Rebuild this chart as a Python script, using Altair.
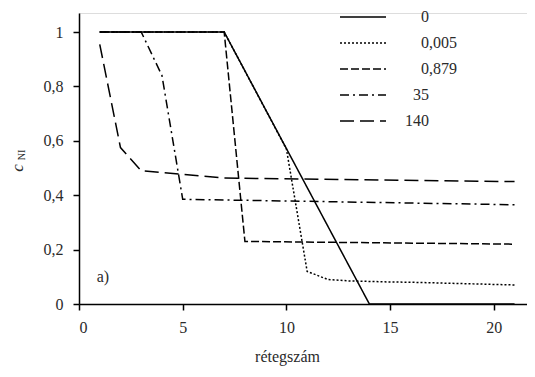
import altair as alt
import pandas as pd

series_names = ["0", "0,005", "0,879", "35", "140"]
legend_int = ["0", "0", "0", "35", "140"]
legend_frac = ["", ",005", ",879", "", ""]

s0_x = [1, 7, 14, 21]
s0_y = [1.0, 1.0, 0.0, 0.0]

s1_x = [1, 7, 10, 11, 12, 13, 14, 15, 16, 17, 18, 19, 20, 21]
s1_y = [1.0, 1.0, 0.57, 0.12, 0.09, 0.085, 0.083, 0.081, 0.08, 0.078, 0.076, 0.074, 0.072, 0.07]

s2_x = [1, 7, 8, 21]
s2_y = [1.0, 1.0, 0.23, 0.22]

s3_x = [1, 3, 4, 5, 21]
s3_y = [1.0, 1.0, 0.84, 0.385, 0.365]

s4_x = [1, 2, 3, 7, 21]
s4_y = [0.955, 0.575, 0.49, 0.463, 0.45]

xs = [s0_x, s1_x, s2_x, s3_x, s4_x]
ys = [s0_y, s1_y, s2_y, s3_y, s4_y]

rows = []
for name, sx, sy in zip(series_names, xs, ys):
    for i, (a, b) in enumerate(zip(sx, sy)):
        rows.append({"series": name, "x": a, "y": b, "order": i})
df = pd.DataFrame(rows)

leg_df = pd.DataFrame({
    "series": series_names,
    "idx": list(range(len(series_names))),
    "int": legend_int,
    "frac": legend_frac,
})

FONT = "Liberation Serif"
TXT = "#2a2a2a"
dashes = [[1, 0], [2, 2], [8, 3], [9, 4, 2, 4], [14, 6]]
dash_scale = alt.Scale(domain=series_names, range=dashes)

lines = alt.Chart(df).mark_line(color="black", strokeWidth=1.5, clip=True).encode(
    x=alt.X("x:Q", scale=alt.Scale(domain=[0, 21.6], nice=False),
            axis=alt.Axis(values=[0, 5, 10, 15, 20], title="rétegszám", grid=False,
                          domain=True, domainColor="black", domainWidth=1.5,
                          tickColor="black", tickSize=6, tickWidth=1.5,
                          labelFont=FONT, labelFontSize=16, labelColor=TXT,
                          labelPadding=9, titleFont=FONT, titleFontSize=16,
                          titleFontWeight="normal", titleColor=TXT, titlePadding=13,
                          titleX=208, titleAlign="center")),
    y=alt.Y("y:Q", scale=alt.Scale(domain=[0, 1.07], nice=False),
            axis=alt.Axis(values=[0, 0.2, 0.4, 0.6, 0.8, 1.0], title=None, grid=False,
                          domain=True, domainColor="black", domainWidth=1.5,
                          tickColor="black", tickSize=6, tickWidth=1.5,
                          labelFont=FONT, labelFontSize=16, labelColor=TXT,
                          labelPadding=10,
                          labelExpr="replace(format(datum.value, '~g'), '.', ',')")),
    strokeDash=alt.StrokeDash("series:N", scale=dash_scale, legend=None),
    detail="series:N",
    order="order:Q",
)

label_df = pd.DataFrame({"x": [0.85], "y": [0.1], "t": ["a)"]})
alabel = alt.Chart(label_df).mark_text(font=FONT, fontSize=16, align="left", baseline="middle",
                                        color=TXT).encode(
    x="x:Q", y=alt.Y("y:Q", scale=alt.Scale(domain=[0, 1.07], nice=False)), text="t:N")

c_df = pd.DataFrame({"t": ["c"]})
ctext = alt.Chart(c_df).mark_text(font=FONT, fontSize=17, fontStyle="italic", angle=270,
                                   color=TXT, baseline="middle", align="center").encode(
    x=alt.value(-61), y=alt.value(155), text="t:N")
ni_df = pd.DataFrame({"t": ["NI"]})
nitext = alt.Chart(ni_df).mark_text(font=FONT, fontSize=10, angle=270, color=TXT,
                                     baseline="middle", align="center").encode(
    x=alt.value(-57), y=alt.value(142), text="t:N")

main = alt.layer(lines, alabel, ctext, nitext)

# legend rows: index -> vertical slot (own scale, no axis)
leg_y = alt.Y("idx:Q", scale=alt.Scale(domain=[-0.154, 11.038], reverse=True, nice=False, zero=False),
              axis=None)

leg_lines = alt.Chart(leg_df).mark_rule(color="black", strokeWidth=1.5).encode(
    x=alt.value(261), x2=alt.value(307), y=leg_y,
    strokeDash=alt.StrokeDash("series:N", scale=dash_scale, legend=None),
)
leg_int = alt.Chart(leg_df).mark_text(font=FONT, fontSize=16, color=TXT, align="right",
                                      baseline="middle").encode(
    x=alt.value(350), y=leg_y, text="int:N")
leg_frac = alt.Chart(leg_df).mark_text(font=FONT, fontSize=16, color=TXT, align="left",
                                       baseline="middle").encode(
    x=alt.value(350), y=leg_y, text="frac:N")
leg = alt.layer(leg_lines, leg_int, leg_frac)

chart = alt.layer(main, leg).resolve_scale(y="independent").properties(
    width=448, height=291,
    autosize=alt.AutoSizeParams(type="none"),
    padding={"left": 71, "top": 5, "right": 0, "bottom": 64},
).configure_view(stroke=None).configure(background="white")

chart.save("out.html", embed_options={"renderer": "svg", "actions": False})
